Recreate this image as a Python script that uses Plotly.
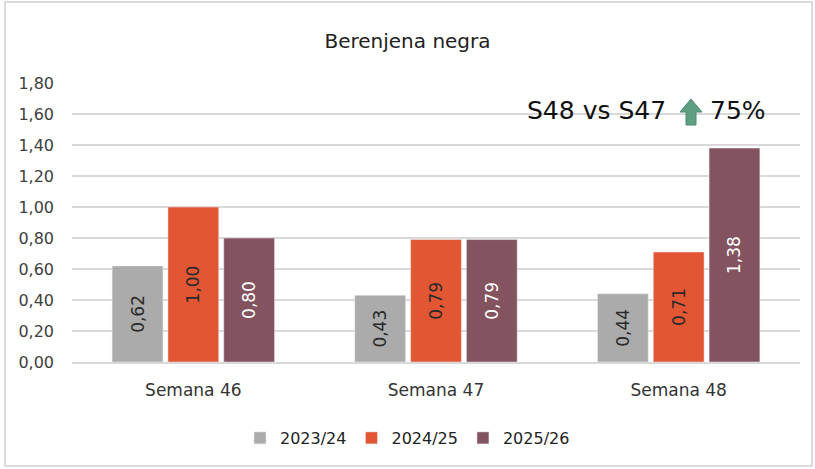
import plotly.graph_objects as go

categories = ["Semana 46", "Semana 47", "Semana 48"]
series_names = ["2023/24", "2024/25", "2025/26"]
v2023 = [0.62, 0.43, 0.44]
v2024 = [1.00, 0.79, 0.71]
v2025 = [0.80, 0.79, 1.38]
colors = ["#ababab", "#e35634", "#845360"]
label_colors = ["#2a2a2a", "#2a2a2a", "#ffffff"]
title = "Berenjena negra"
yticks = [0, 0.2, 0.4, 0.6, 0.8, 1.0, 1.2, 1.4, 1.6, 1.8]
ytick_labels = [f"{v:.2f}".replace(".", ",") for v in yticks]

FONT = "'DejaVu Sans', sans-serif"

L, T, R, B = 72, 83, 800, 362
W, H = 815, 469


def px(x):
    return (x - L) / (R - L)


def py(y):
    return (B - y) / (B - T)


fig = go.Figure()
for name, vals, c, lc in zip(series_names, [v2023, v2024, v2025], colors, label_colors):
    fig.add_trace(go.Bar(
        x=categories, y=vals, name=name, marker_color=c,
        text=[f"{v:.2f}".replace(".", ",") for v in vals],
        textposition="inside", insidetextanchor="middle", textangle=-90,
        textfont=dict(color=lc, size=17, family=FONT),
        constraintext="none",
    ))

fig.update_layout(
    width=W, height=H,
    paper_bgcolor="white", plot_bgcolor="white",
    margin=dict(l=L, r=W - R, t=T, b=H - B, autoexpand=False),
    barmode="group", bargap=0.31, bargroupgap=0.09,
    font=dict(family=FONT, color="#333333", size=16),
    title=dict(text=title, x=0.5, xanchor="center", y=1 - 41 / H, yanchor="middle",
               font=dict(size=20, color="#222222", family=FONT)),
    legend=dict(orientation="h", x=px(W / 2), xanchor="center",
                y=py(438), yanchor="middle",
                font=dict(size=16, color="#222222", family=FONT),
                itemwidth=30, traceorder="normal"),
    yaxis=dict(range=[0, 1.8], tickvals=yticks, ticktext=ytick_labels,
               showgrid=True, gridcolor="#d9d9d9", gridwidth=1.5,
               zeroline=False, showline=False, ticks="", ticklen=0,
               ticklabelstandoff=17,
               tickfont=dict(size=16, color="#404040"), automargin=False),
    xaxis=dict(showline=True, linecolor="#d9d9d9", linewidth=1.5, ticks="",
               ticklabelstandoff=12, tickangle=0,
               tickfont=dict(size=17, color="#333333"), automargin=False),
)

fig.add_annotation(
    xref="paper", yref="paper", x=px(668), y=py(111), xanchor="right", yanchor="middle",
    text="S48 vs S47", showarrow=False,
    font=dict(size=25, color="#111111", family=FONT),
)
fig.add_annotation(
    xref="paper", yref="paper", x=px(708), y=py(111), xanchor="left", yanchor="middle",
    text="75%", showarrow=False,
    font=dict(size=25, color="#111111", family=FONT),
)
# up-arrow icon
arrow_pts = [(691, 99), (702, 112), (696, 112), (696, 125), (686, 125), (686, 112), (680, 112)]
path = "M " + " L ".join(f"{px(x)},{py(y)}" for x, y in arrow_pts) + " Z"
fig.add_shape(type="path", xref="paper", yref="paper", path=path,
              fillcolor="#5e9f82", line=dict(color="#4f8a70", width=1))

fig.add_shape(type="rect", xref="paper", yref="paper",
              x0=px(5), x1=px(812), y0=py(466), y1=py(2),
              line=dict(color="#d0d0d0", width=1.5), layer="below")

fig.write_html("out.html", config={"displayModeBar": False},
               post_script="document.body.style.margin='0';document.body.style.padding='0';")
